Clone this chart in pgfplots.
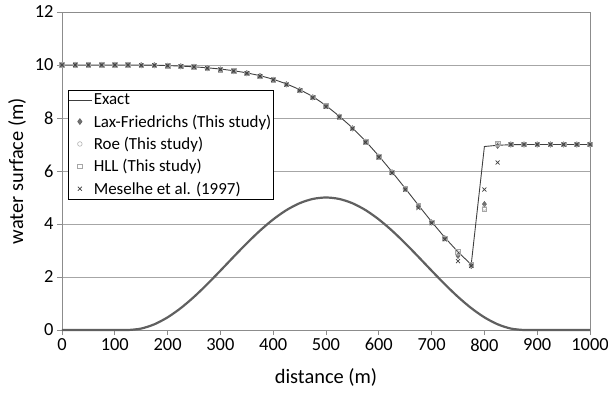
\documentclass[border=0pt]{standalone}
\usepackage{fontspec}
\setmainfont{Carlito}
\usepackage{pgfplots}
\pgfplotsset{compat=1.18}
\usepackage{pgfplotstable}

\pgfplotstableread{
x bed exact lf roe hll mes
0 0 10.00 10.00 10.00 10.00 10.00
25 0 10.00 10.00 10.00 10.00 10.00
50 0 10.00 10.00 10.00 10.00 10.00
75 0 10.00 10.00 10.00 10.00 10.00
100 0 10.00 10.00 10.00 10.00 10.00
125 0 10.00 10.00 10.00 10.00 10.00
150 0.055 9.998 9.99 9.99 9.99 9.99
175 0.216 9.995 9.99 9.99 9.99 9.99
200 0.478 9.978 9.97 9.97 9.97 9.97
225 0.827 9.959 9.95 9.95 9.95 9.95
250 1.25 9.932 9.93 9.93 9.93 9.93
275 1.727 9.895 9.88 9.88 9.88 9.88
300 2.239 9.848 9.83 9.83 9.83 9.83
325 2.761 9.785 9.77 9.77 9.77 9.77
350 3.273 9.703 9.69 9.69 9.69 9.69
375 3.75 9.598 9.58 9.58 9.58 9.58
400 4.173 9.463 9.44 9.44 9.44 9.44
425 4.523 9.288 9.27 9.27 9.27 9.26
450 4.784 9.074 9.05 9.05 9.05 9.04
475 4.945 8.811 8.78 8.78 8.78 8.77
500 5.0 8.47 8.45 8.45 8.45 8.43
525 4.945 8.07 8.05 8.05 8.05 8.03
550 4.784 7.631 7.61 7.61 7.61 7.60
575 4.523 7.126 7.10 7.10 7.10 7.08
600 4.173 6.569 6.54 6.54 6.54 6.52
625 3.75 5.97 5.95 5.95 5.95 5.93
650 3.273 5.346 5.32 5.32 5.32 5.30
675 2.761 4.71 4.68 4.68 4.68 4.60
700 2.239 4.086 4.06 4.06 4.06 4.03
725 1.727 3.49 3.46 3.46 3.46 3.42
750 1.25 2.946 2.80 2.90 2.95 2.60
775 0.827 2.47 2.42 2.45 2.45 2.42
800 0.478 6.924 4.75 4.60 4.55 5.30
825 0.216 6.971 6.95 7.00 7.05 6.32
850 0.055 6.992 7.00 7.00 7.00 7.00
875 0 7.00 7.00 7.00 7.00 7.00
900 0 7.00 7.00 7.00 7.00 7.00
925 0 7.00 7.00 7.00 7.00 7.00
950 0 7.00 7.00 7.00 7.00 7.00
975 0 7.00 7.00 7.00 7.00 7.00
1000 0 7.00 7.00 7.00 7.00 7.00
}\data

\definecolor{gridc}{HTML}{A6A6A6}
\definecolor{axc}{HTML}{8C8C8C}
\definecolor{exactc}{HTML}{404040}
\definecolor{bedc}{HTML}{606060}

\begin{document}
\begin{tikzpicture}
\begin{axis}[
  at={(0,0)}, anchor=south west,
  scale only axis, width=528bp, height=318bp,
  xmin=0, xmax=1000, ymin=0, ymax=12,
  xtick={0,100,...,1000}, ytick={0,2,...,12},
  ymajorgrids, grid style={draw=gridc, line width=0.8bp},
  axis line style={draw=axc, line width=0.8bp},
  tick style={draw=axc, line width=0.8bp},
  tick pos=left, tick align=outside, major tick length=5bp,
  ticklabel style={font=\fontsize{18.5}{20}\selectfont},
  /pgf/number format/assume math mode=true,
  /pgf/number format/1000 sep={},
  label style={font=\fontsize{20.5}{22}\selectfont},
  xlabel={distance (m)}, ylabel={water surface (m)},
  xlabel style={at={(axis description cs:0.5,0)}, anchor=center, yshift=-47bp},
  ylabel style={at={(axis description cs:0,0.5)}, anchor=center, yshift=45bp},
  legend style={at={(0.0114,0.755)}, anchor=north west, draw=black,
    line width=0.8bp, font=\fontsize{17}{19}\selectfont,
    row sep=4.5bp, inner xsep=0bp, inner ysep=1.5bp,
    nodes={inner xsep=1.5bp}},
  legend image code/.code={\draw[mark repeat=2,mark phase=2,#1]
    plot coordinates {(0bp,0bp)(11bp,0bp)(23bp,0bp)};},
  legend cell align=left,
  clip=false,
]
\addplot[exactc, line width=0.9bp, mark=none] table[x=x, y=exact] {\data};
\addlegendentry{Exact}
\addplot[only marks, mark=diamond*, mark size=2.8bp, draw=black!60, fill=black!55] table[x=x, y=lf] {\data};
\addlegendentry{Lax-Friedrichs (This study)}
\addplot[only marks, mark=o, mark size=2.3bp, draw=black!30, line width=0.6bp] table[x=x, y=roe] {\data};
\addlegendentry{Roe (This study)}
\addplot[only marks, mark=square, mark size=2.3bp, draw=black!35, line width=0.6bp] table[x=x, y=hll] {\data};
\addlegendentry{HLL (This study)}
\addplot[only marks, mark=x, mark size=2.8bp, draw=exactc, line width=0.7bp] table[x=x, y=mes] {\data};
\addlegendentry{Meselhe et al. (1997)}
\addplot[bedc, line width=2.2bp, smooth, forget plot] table[x=x, y=bed] {\data};
\end{axis}
\pgfresetboundingbox
\path (-62bp,-64bp) rectangle (546bp,330bp);
\end{tikzpicture}
\end{document}
